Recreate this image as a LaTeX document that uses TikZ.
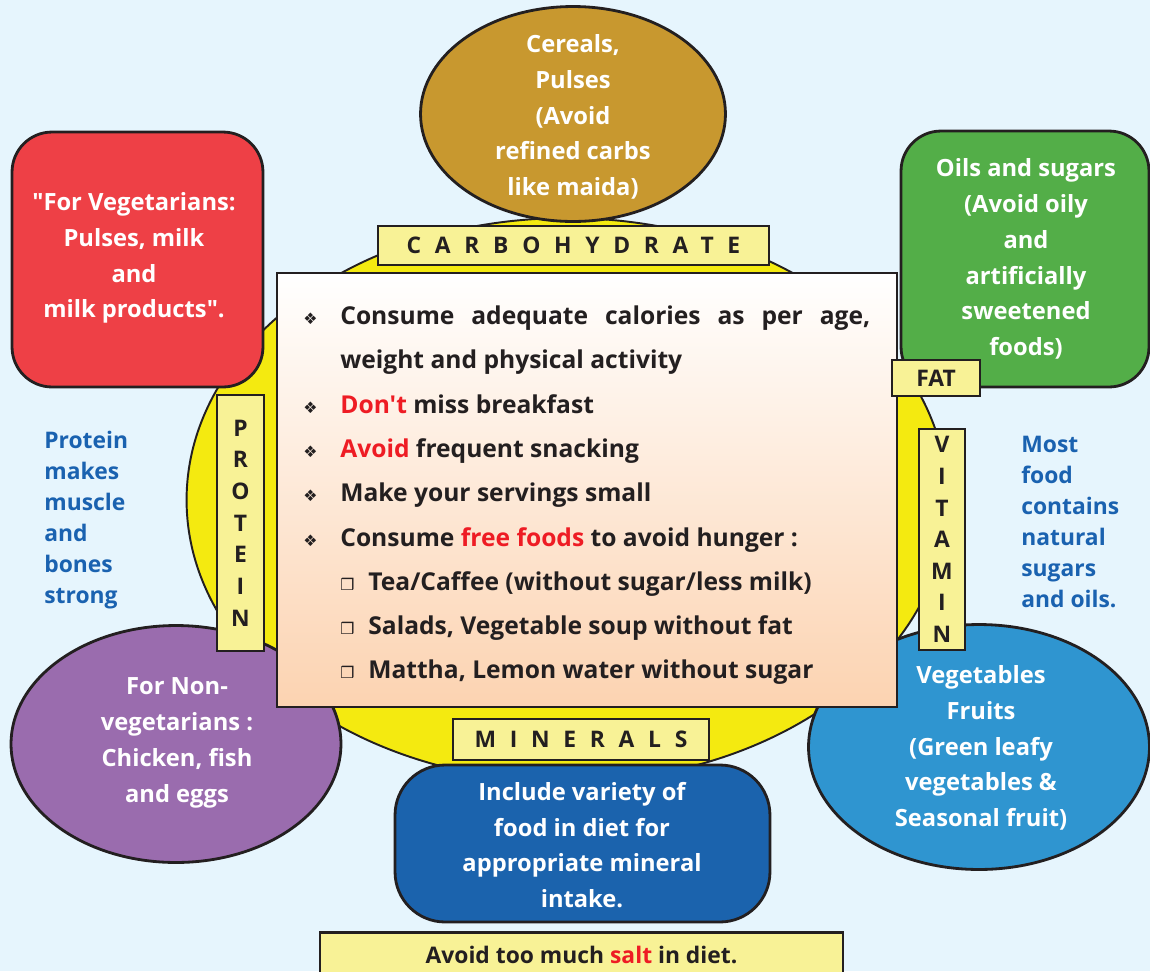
\documentclass[tikz,border=0pt]{standalone}
\usepackage{fontspec}
\setmainfont{Open Sans}[Ligatures=TeXOff]
\newfontfamily\symfont{DejaVu Sans}
\usetikzlibrary{shapes.geometric, positioning}

\definecolor{skybg}{HTML}{E6F5FD}
\definecolor{plate}{HTML}{F4EA10}
\definecolor{inkline}{HTML}{231F20}
\definecolor{tagfill}{HTML}{F8F296}
\definecolor{ochre}{HTML}{C8982F}
\definecolor{vegred}{HTML}{EE4046}
\definecolor{oilgreen}{HTML}{53AE48}
\definecolor{meatpurple}{HTML}{9A6CAE}
\definecolor{fruitblue}{HTML}{2F95D0}
\definecolor{mineralblue}{HTML}{1B63AD}
\definecolor{peach}{HTML}{FCD3B1}
\definecolor{notetext}{HTML}{1A62B0}
\definecolor{alertred}{HTML}{EE1C24}

\newcommand{\tipline}[1]{\par\hangindent=0.74cm\hangafter=1\noindent\makebox[0.74cm][l]{\symfont\small ❖}#1\par}
\newcommand{\subline}[1]{\par\noindent\hspace*{0.74cm}\makebox[0.56cm][l]{\symfont\small ❒}#1\par}

\begin{document}
\begin{tikzpicture}[x=0.02cm, y=-0.02cm,
    outline/.style={draw=inkline, line width=1.6pt},
    bubble/.style={outline, inner sep=0pt},
    bubbletext/.style={text=white, align=center, inner sep=0pt, font=\bfseries\fontsize{13.5}{20.4}\selectfont},
    tag/.style={outline, fill=tagfill, inner sep=0pt, text=inkline, font=\bfseries\fontsize{13}{18}\selectfont},
    spaced/.style={font=\bfseries\fontsize{13}{18}\selectfont\addfontfeature{LetterSpace=60}},
    sidenote/.style={anchor=west, align=left, inner sep=0pt, text=notetext, font=\bfseries\fontsize{13}{17.6}\selectfont}]

  \fill[skybg] (0,0) rectangle (1150,971);
  \useasboundingbox (0,0) rectangle (1150,971);

  % the plate
  \node[ellipse, draw=inkline, line width=1.1pt, fill=plate, minimum width=15.22cm, minimum height=11.28cm] (plate) at (567,500) {};

  % food groups round the plate
  \node[bubble, ellipse, fill=ochre, minimum width=6.1cm, minimum height=4.3cm] (cereal) at (573,114) {};
  \node[bubbletext] (cerealtext) at (573,117) {Cereals,\\Pulses\\(Avoid\\refined carbs\\like maida)};

  \node[bubble, rectangle, rounded corners=0.8cm, fill=vegred, minimum width=5.02cm, minimum height=5.1cm] (veg) at (137.5,259.5) {};
  \node[bubbletext] (vegtext) at (134,258) {"For Vegetarians:\\Pulses, milk\\and\\milk products".};

  \node[bubble, rectangle, rounded corners=0.8cm, fill=oilgreen, minimum width=4.96cm, minimum height=5.12cm] (oil) at (1025,259) {};
  \node[bubbletext] (oiltext) at (1026,259) {Oils and sugars\\(Avoid oily\\and\\artificially\\sweetened\\foods)};

  \node[bubble, ellipse, fill=meatpurple, minimum width=6.6cm, minimum height=4.74cm] (meat) at (176,744) {};
  \node[bubbletext] (meattext) at (177,743) {For Non-\\vegetarians :\\Chicken, fish\\and eggs};

  \node[bubble, ellipse, fill=fruitblue, minimum width=6.82cm, minimum height=4.9cm] (fruit) at (979,747) {};
  \node[bubbletext] (fruittext) at (981,748) {Vegetables\\Fruits\\(Green leafy\\vegetables \&\\Seasonal fruit)};

  \node[bubble, rectangle, rounded corners=1cm, fill=mineralblue, minimum width=7.5cm, minimum height=3.14cm] (mineral) at (582.5,843.5) {};
  \node[bubbletext] (mineraltext) at (582,845) {Include variety of\\food in diet for\\appropriate mineral\\intake.};

  % advice in the middle
  \node[draw=inkline, line width=0.8pt, top color=white, bottom color=peach, minimum width=12.4cm, minimum height=8.68cm] (tips) at (587,490) {};
  \node[anchor=north west, inner sep=0pt, text width=11.34cm, align=justify, text=inkline,
        font=\bfseries\fontsize{14}{25.2}\selectfont] (tiplist) at (303,280) {%
    \tipline{Consume adequate calories as per age, weight and physical activity}
    \tipline{\textcolor{alertred}{Don't} miss breakfast}
    \tipline{\textcolor{alertred}{Avoid} frequent snacking}
    \tipline{Make your servings small}
    \tipline{Consume \textcolor{alertred}{free foods} to avoid hunger :}
    \subline{Tea/Caffee (without sugar/less milk)}
    \subline{Salads, Vegetable soup without fat}
    \subline{Mattha, Lemon water without sugar}};

  % nutrient tags
  \node[tag, spaced, minimum width=7.82cm, minimum height=0.78cm] (carbtag) at (573.5,245.5) {CARBOHYDRATE};
  \node[tag, spaced, minimum width=5.12cm, minimum height=0.82cm] (mintag) at (581,739.5) {MINERALS};
  \node[tag, minimum width=1.76cm, minimum height=0.72cm] (fattag) at (936,378) {FAT};
  \node[tag, align=center, minimum width=0.92cm, minimum height=4.42cm] (vittag) at (942,539.5) {V\\I\\T\\A\\M\\I\\N};
  \node[tag, align=center, minimum width=0.94cm, minimum height=5.12cm] (protag) at (240.5,523) {P\\R\\O\\T\\E\\I\\N};

  % notes at the sides
  \node[sidenote] (pronote) at (44,520) {Protein\\makes\\muscle\\and\\bones\\strong};
  \node[sidenote] (vitnote) at (1021,522) {Most\\food\\contains\\natural\\sugars\\and oils.};

  \node[tag, minimum width=10.46cm, minimum height=0.9cm] (salt) at (581.5,955)
    {Avoid too much \textcolor{alertred}{salt} in diet.};
\end{tikzpicture}
\end{document}
